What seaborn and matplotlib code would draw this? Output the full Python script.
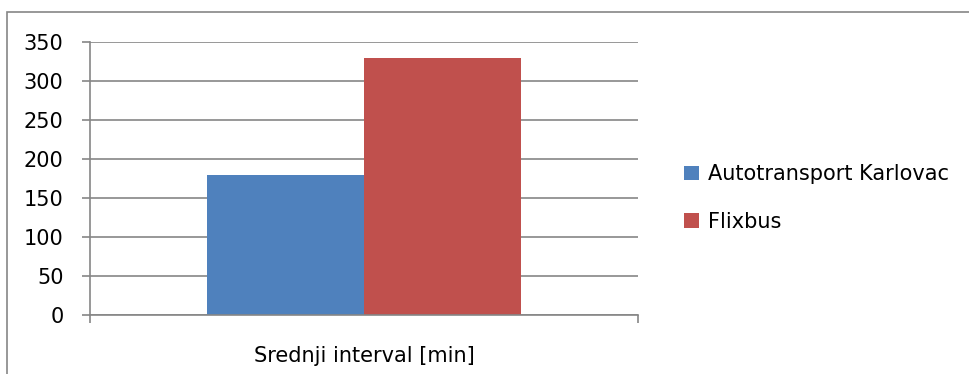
import matplotlib
matplotlib.use("Agg")
import matplotlib.pyplot as plt
from matplotlib.patches import Rectangle
import seaborn as sns
import pandas as pd

# podaci s grafa
categories = ["Srednji interval [min]"]
series = ["Autotransport Karlovac", "Flixbus"]
values = [180, 330]
colors = ["#4F81BD", "#C0504D"]
y_ticks = [0, 50, 100, 150, 200, 250, 300, 350]

df = pd.DataFrame({
    "kategorija": categories * len(series),
    "prijevoznik": series,
    "vrijednost": values,
})

sns.set_theme(style="white")
plt.rcParams["font.family"] = ["DejaVu Sans"]
grid_col = "#868686"
fs = 15

fig = plt.figure(figsize=(9.7, 3.74), dpi=100)
ax = fig.add_axes([90 / 970, 1 - 315 / 374, (638 - 90) / 970, (315 - 42) / 374])

sns.barplot(data=df, x="kategorija", y="vrijednost", hue="prijevoznik",
            palette=colors, width=0.573, saturation=1, linewidth=0, ax=ax, legend=True)

ax.set_ylim(0, 350)
ax.set_xlim(-0.5, 0.5)
ax.set_yticks(y_ticks)
ax.set_xlabel("")
ax.set_ylabel("")
ax.yaxis.grid(True, color=grid_col, linewidth=1.2)
ax.set_axisbelow(True)

for s in ["top", "right"]:
    ax.spines[s].set_visible(False)
for s in ["left", "bottom"]:
    ax.spines[s].set_color(grid_col)
    ax.spines[s].set_linewidth(1.2)

ax.tick_params(axis="y", direction="out", length=6, width=1.2, color=grid_col,
               pad=13, labelsize=fs, labelcolor="black", left=True)
ax.tick_params(axis="x", which="major", length=0, pad=22, labelsize=fs,
               labelcolor="black")
ax.set_xticks([-0.5, 0.5], minor=True)
ax.tick_params(axis="x", which="minor", direction="out", length=6, width=1.2,
               color=grid_col, bottom=True)

handles, labels = ax.get_legend_handles_labels()
ax.legend(handles, labels, loc="center left", bbox_to_anchor=(676 / 970, 1 - 198 / 374),
          bbox_transform=fig.transFigure, frameon=False, fontsize=fs,
          labelcolor="black", handlelength=0.7, handleheight=0.7, handletextpad=0.45,
          labelspacing=1.3, borderaxespad=0)

# okvir grafikona
fig.patches.append(Rectangle((7 / 970, -0.5), 2, 1.5 - 12 / 374,
                             transform=fig.transFigure, fill=False,
                             edgecolor=grid_col, linewidth=1.2))

fig.savefig("out.png", dpi=100)
